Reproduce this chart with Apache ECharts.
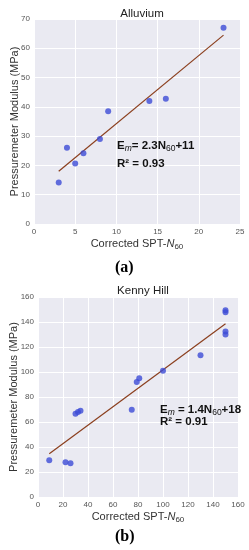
<!DOCTYPE html>
<html>
<head>
<meta charset="utf-8">
<script src="https://cdn.jsdelivr.net/npm/echarts@6/dist/echarts.min.js"></script>
<style>html,body{margin:0;padding:0;background:#fff;}#c{width:249px;height:550px;}</style>
</head>
<body>
<div id="c"></div>
<script>
// Chart (a) Alluvium
const alluviumN60 = [3, 4, 5, 6, 8, 9, 14, 16, 23];
const alluviumEm = [14.2, 26, 20.7, 24.2, 29, 38.5, 42, 42.8, 67];
const alluviumFitX = [3, 23];
const alluviumFitY = [18, 64.5];
const alluviumXTicks = [0, 25, 5];   // min, max, interval
const alluviumYTicks = [0, 70, 10];

// Chart (b) Kenny Hill
const kennyN60 = [9, 22, 26, 30, 32, 34, 75, 79, 81, 100, 130, 150, 150, 150, 150];
const kennyEm = [29.4, 27.8, 27, 66.7, 68, 69, 69.8, 92, 95, 101, 113.4, 149.4, 147.8, 132.5, 130];
const kennyFitX = [9, 150];
const kennyFitY = [34.6, 138.6];
const kennyXTicks = [0, 160, 20];
const kennyYTicks = [0, 160, 20];

const zip = (a, b) => a.map((v, i) => [v, b[i]]);

const FONT = 'Liberation Sans, Arial, sans-serif';
const tickLabel = { color: '#555', fontSize: 8, fontFamily: FONT, margin: 4 };
const xName = {
  rich: {
    a: { fontSize: 11, color: '#333', fontFamily: FONT },
    i: { fontSize: 11, color: '#333', fontStyle: 'italic', fontFamily: FONT },
    s: { fontSize: 8, color: '#333', verticalAlign: 'bottom', padding: [6, 0, 0, 0], fontFamily: FONT }
  }
};
function axisX(idx, t) {
  return {
    gridIndex: idx, type: 'value', min: t[0], max: t[1], interval: t[2],
    axisLine: { show: false }, axisTick: { show: false },
    splitLine: { show: true, lineStyle: { color: '#fff', width: 1 } },
    axisLabel: tickLabel,
    name: '{a|Corrected SPT-}{i|N}{s|60}', nameLocation: 'middle', nameGap: 13,
    nameMoveOverlap: false,
    nameTextStyle: xName
  };
}
function axisY(idx, t, gap) {
  return {
    gridIndex: idx, type: 'value', min: t[0], max: t[1], interval: t[2],
    axisLine: { show: false }, axisTick: { show: false },
    splitLine: { show: true, lineStyle: { color: '#fff', width: 1 } },
    axisLabel: tickLabel,
    name: 'Pressuremeter Modulus (MPa)', nameLocation: 'middle', nameGap: gap,
    nameMoveOverlap: false,
    nameTextStyle: { fontSize: 11, color: '#333', fontFamily: FONT }
  };
}
const ptColor = '#3c4bd6';
const lineColor = '#8b3f1e';

const eqRich = {
  b: { fontSize: 11.5, fontWeight: 'bold', fill: '#111', fontFamily: FONT },
  si: { fontSize: 8.5, fontStyle: 'italic', fill: '#111', verticalAlign: 'bottom', padding: [5, 0, 0, 0], fontFamily: FONT },
  s: { fontSize: 8.5, fill: '#111', verticalAlign: 'bottom', padding: [5, 0, 0, 0], fontFamily: FONT }
};

const chart = echarts.init(document.getElementById('c'), null, { renderer: 'canvas' });
chart.setOption({
  animation: false,
  backgroundColor: '#fff',
  title: [
    { text: 'Alluvium', left: 137, top: 3, textAlign: 'center',
      textStyle: { fontSize: 11.5, fontWeight: 'normal', color: '#222', fontFamily: FONT } },
    { text: 'Kenny Hill', left: 138, top: 280, textAlign: 'center',
      textStyle: { fontSize: 11.5, fontWeight: 'normal', color: '#222', fontFamily: FONT } }
  ],
  grid: [
    { left: 34, top: 19, width: 206, height: 205, show: true, backgroundColor: '#eaeaf2', borderWidth: 0, containLabel: false, outerBoundsMode: 'none' },
    { left: 38, top: 297, width: 200, height: 200, show: true, backgroundColor: '#eaeaf2', borderWidth: 0, containLabel: false, outerBoundsMode: 'none' }
  ],
  xAxis: [axisX(0, alluviumXTicks), axisX(1, kennyXTicks)],
  yAxis: [axisY(0, alluviumYTicks, 14), axisY(1, kennyYTicks, 19)],
  series: [
    { type: 'line', xAxisIndex: 0, yAxisIndex: 0, data: zip(alluviumFitX, alluviumFitY),
      symbol: 'none', lineStyle: { color: lineColor, width: 1.2 }, z: 2 },
    { type: 'scatter', xAxisIndex: 0, yAxisIndex: 0, data: zip(alluviumN60, alluviumEm),
      symbolSize: 6, itemStyle: { color: ptColor }, z: 3 },
    { type: 'line', xAxisIndex: 1, yAxisIndex: 1, data: zip(kennyFitX, kennyFitY),
      symbol: 'none', lineStyle: { color: lineColor, width: 1.2 }, z: 2 },
    { type: 'scatter', xAxisIndex: 1, yAxisIndex: 1, data: zip(kennyN60, kennyEm),
      symbolSize: 6, itemStyle: { color: ptColor }, z: 3 }
  ],
  graphic: [
    { type: 'text', left: 117, top: 140, z: 10, style: { text: '{b|E}{si|m}{b|= 2.3N}{s|60}{b|+11}', rich: eqRich } },
    { type: 'text', left: 117, top: 158, z: 10, style: { text: '{b|R² = 0.93}', rich: eqRich } },
    { type: 'text', left: 160, top: 404, z: 10, style: { text: '{b|E}{si|m}{b| = 1.4N}{s|60}{b|+18}', rich: eqRich } },
    { type: 'text', left: 160, top: 416, z: 10, style: { text: '{b|R² = 0.91}', rich: eqRich } },
    { type: 'text', left: 115, top: 260, style: { text: '(a)', font: 'bold 16px "Liberation Serif", serif', fill: '#000' } },
    { type: 'text', left: 115, top: 529, style: { text: '(b)', font: 'bold 16px "Liberation Serif", serif', fill: '#000' } }
  ]
});
</script>
</body>
</html>
